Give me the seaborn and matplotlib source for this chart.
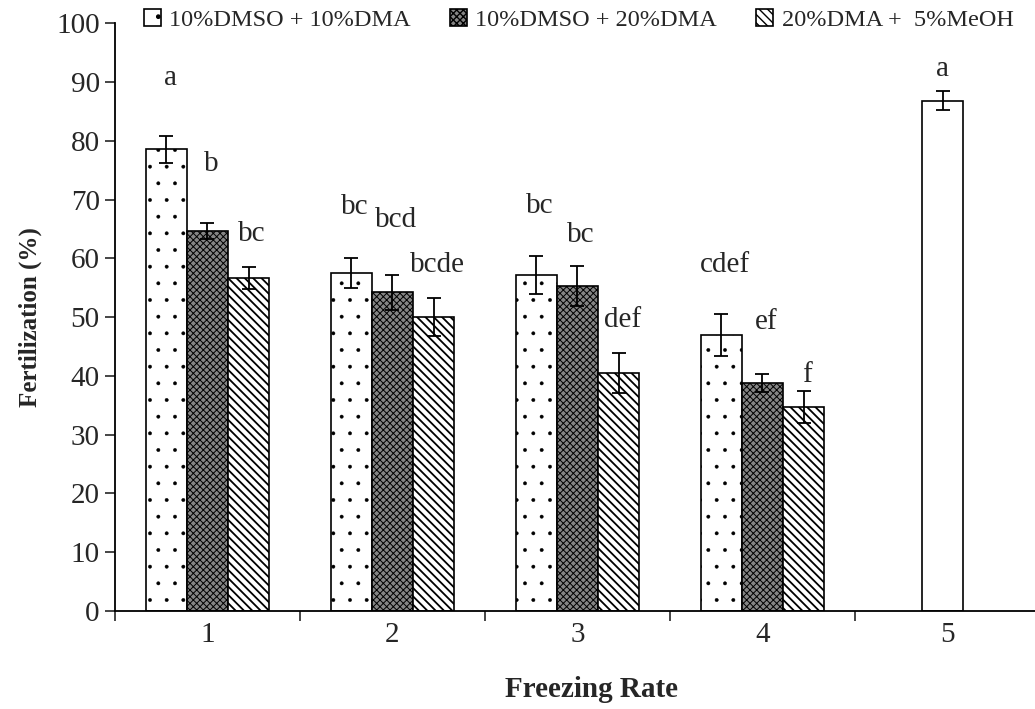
import numpy as np
import pandas as pd
import matplotlib
matplotlib.use("Agg")
import matplotlib.pyplot as plt
import seaborn as sns

# freezing rates (x categories) and treatments
rates = ['1', '2', '3', '4', '5']
treatments = ['10%DMSO + 10%DMA', '10%DMSO + 20%DMA', '20%DMA +  5%MeOH']

# mean fertilization (%) and SE for rates 1-4, one list per treatment
mean_dmso10_dma10 = [78.6, 57.5, 57.2, 46.9]
mean_dmso10_dma20 = [64.6, 54.2, 55.3, 38.8]
mean_dma20_meoh5 = [56.6, 50.0, 40.5, 34.7]
se_dmso10_dma10 = [2.3, 2.6, 3.2, 3.6]
se_dmso10_dma20 = [1.4, 3.0, 3.4, 1.5]
se_dma20_meoh5 = [1.9, 3.2, 3.4, 2.7]

# rate 5 (fresh control)
control_mean = [86.8]
control_se = [1.6]

# significance letters and the height they are written at
letters_dmso10_dma10 = ['a', 'bc', 'bc', 'cdef']
letters_dmso10_dma20 = ['b', 'bcd', 'bc', 'ef']
letters_dma20_meoh5 = ['bc', 'bcde', 'def', 'f']
letter_y_dmso10_dma10 = [90.7, 68.7, 68.9, 58.9]
letter_y_dmso10_dma20 = [76.0, 66.5, 64.0, 49.2]
letter_y_dma20_meoh5 = [64.1, 58.9, 49.5, 40.1]
control_letter = ['a']
control_letter_y = [92.2]

means = [mean_dmso10_dma10, mean_dmso10_dma20, mean_dma20_meoh5]
ses = [se_dmso10_dma10, se_dmso10_dma20, se_dma20_meoh5]
letters = [letters_dmso10_dma10, letters_dmso10_dma20, letters_dma20_meoh5]
letter_ys = [letter_y_dmso10_dma10, letter_y_dmso10_dma20, letter_y_dma20_meoh5]

df = pd.DataFrame({
    'rate': np.repeat(rates[:4], 3),
    'treatment': treatments * 4,
    'value': [means[j][i] for i in range(4) for j in range(3)],
})
ctrl_df = pd.DataFrame({'rate': [rates[4]], 'value': control_mean})

sns.set_style("ticks")
plt.rcParams['font.family'] = ['Liberation Serif', 'DejaVu Serif']
plt.rcParams['hatch.linewidth'] = 1.0

fig = plt.figure(figsize=(10.35, 7.09), dpi=100)
ax = fig.add_axes([0.1111, 0.1386, 0.8937, 0.8285])

sns.barplot(data=df, x='rate', y='value', hue='treatment', order=rates,
            hue_order=treatments, width=0.666, errorbar=None, ax=ax,
            legend=False, saturation=1)
sns.barplot(data=ctrl_df, x='rate', y='value', order=rates, width=0.222,
            errorbar=None, ax=ax, color='white', saturation=1)

# (face colour, hatch, hatch line width)
styles = [('white', '.', 0.3), ('#858585', 'xxxxx', 0.7), ('white', '\\\\\\\\', 1.3)]
for cont, (fc, hatch, hlw) in zip(ax.containers[:3], styles):
    for p in cont.patches:
        p.set_facecolor(fc)
        p.set_edgecolor('black')
        p.set_linewidth(1.2)
        p.set_hatch(hatch)
        if hasattr(p, 'set_hatch_linewidth'):
            p.set_hatch_linewidth(hlw)
for p in ax.containers[3].patches:
    p.set_facecolor('white')
    p.set_edgecolor('black')
    p.set_linewidth(1.2)
    p.set_x(p.get_x() - 0.025)

# error bars and letters on top of every bar
for cont, se, labs, ly in zip(ax.containers[:3], ses, letters, letter_ys):
    xs = [p.get_x() + p.get_width() / 2 for p in cont.patches]
    hs = [p.get_height() for p in cont.patches]
    ax.errorbar(xs, hs, yerr=se, fmt='none', ecolor='black', elinewidth=1.3,
                capsize=4.8, capthick=1.3)
    for x, lab, y in zip(xs, labs, ly):
        ax.text(x + 0.02, y, lab, ha='center', va='center', fontsize=21)
for p in ax.containers[3].patches:
    x = p.get_x() + p.get_width() / 2
    ax.errorbar([x], [p.get_height()], yerr=control_se, fmt='none', ecolor='black',
                elinewidth=1.3, capsize=4.8, capthick=1.3)
    ax.text(x, control_letter_y[0], control_letter[0], ha='center', va='center', fontsize=21)

ax.set_ylim(0, 100)
ax.set_xlim(-0.5, 4.5)
ax.set_yticks(range(0, 101, 10))
ax.set_xticks(np.arange(-0.5, 5, 1.0))
ax.set_xticklabels([])
ax.set_xticks(range(5), minor=True)
ax.set_xticklabels(rates, minor=True)
ax.tick_params(axis='x', which='major', length=7, width=1.2, direction='out')
ax.tick_params(axis='x', which='minor', length=0, pad=8, labelsize=21)
ax.tick_params(axis='y', length=7, width=1.2, direction='out', labelsize=21, pad=4)
for s in ['top', 'right']:
    ax.spines[s].set_visible(False)
for s in ['left', 'bottom']:
    ax.spines[s].set_linewidth(1.3)
    ax.spines[s].set_color('black')

ax.set_xlabel('Freezing Rate', fontsize=21, fontweight='bold', labelpad=20)
ax.xaxis.label.set_x(0.515)
ax.set_ylabel('Fertilization (%)', fontsize=18, fontweight='bold', labelpad=10)

fig.legend(ax.containers[:3], treatments, loc='center left',
           bbox_to_anchor=(0.139, 0.972), ncol=3, frameon=False, fontsize=17.5,
           handlelength=0.7, handleheight=0.7, handletextpad=0.35,
           columnspacing=1.6, borderaxespad=0, borderpad=0)

fig.savefig('out.png', dpi=100)
